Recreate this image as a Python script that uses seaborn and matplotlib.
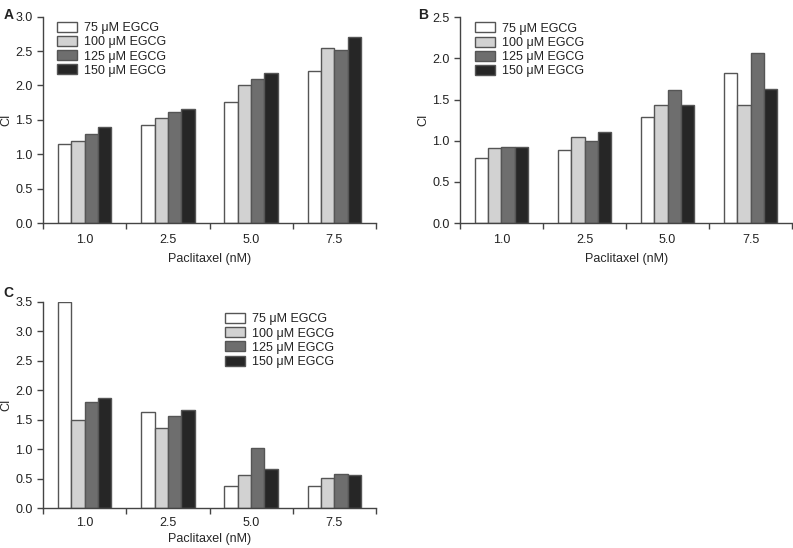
import matplotlib
matplotlib.use("Agg")
import matplotlib.pyplot as plt
import pandas as pd
import seaborn as sns

DOSES = ["1.0", "2.5", "5.0", "7.5"]
EGCG = ["75 \u03bcM EGCG", "100 \u03bcM EGCG", "125 \u03bcM EGCG", "150 \u03bcM EGCG"]

# CI values, one list per EGCG concentration (order follows DOSES)
A_75 = [1.15, 1.43, 1.76, 2.21]
A_100 = [1.19, 1.53, 2.00, 2.54]
A_125 = [1.29, 1.62, 2.10, 2.52]
A_150 = [1.39, 1.66, 2.18, 2.70]

B_75 = [0.79, 0.89, 1.29, 1.82]
B_100 = [0.91, 1.05, 1.43, 1.44]
B_125 = [0.92, 1.00, 1.62, 2.06]
B_150 = [0.92, 1.10, 1.43, 1.63]

C_75 = [3.50, 1.64, 0.37, 0.37]
C_100 = [1.50, 1.36, 0.56, 0.51]
C_125 = [1.80, 1.56, 1.02, 0.58]
C_150 = [1.87, 1.67, 0.66, 0.56]

PALETTE = ["#ffffff", "#d2d2d2", "#6e6e6e", "#262626"]


def to_frame(series):
    rows = []
    for label, values in zip(EGCG, series):
        for dose, v in zip(DOSES, values):
            rows.append({"dose": dose, "egcg": label, "ci": v})
    return pd.DataFrame(rows)


def draw_panel(ax, series, ymax, legend_anchor, xpad=8, xlabelpad=5):
    df = to_frame(series)
    sns.barplot(
        data=df, x="dose", y="ci", hue="egcg", order=DOSES, hue_order=EGCG,
        palette=PALETTE, width=0.64, edgecolor="#555555", linewidth=1.0,
        saturation=1, ax=ax,
    )
    n = int(round(ymax / 0.5)) + 1
    ax.set_xlim(-0.5, 3.5)
    ax.set_ylim(0, ymax)
    ax.set_yticks([i * 0.5 for i in range(n)])
    ax.set_yticklabels([f"{i * 0.5:.1f}" for i in range(n)])
    ax.set_xticks([-0.5, 0.5, 1.5, 2.5, 3.5])
    ax.set_xticklabels([])
    ax.set_xticks([0, 1, 2, 3], minor=True)
    ax.set_xticklabels(DOSES, minor=True)
    ax.tick_params(axis="x", which="minor", length=0, pad=xpad)
    ax.tick_params(axis="both", which="major", length=4, width=1, color="#444444")
    ax.set_xlabel("Paclitaxel (nM)", fontsize=9, labelpad=xlabelpad)
    ax.set_ylabel("CI", fontsize=9)
    ax.yaxis.set_label_coords(-0.093, 0.5)
    for s in ["top", "right"]:
        ax.spines[s].set_visible(False)
    for s in ["left", "bottom"]:
        ax.spines[s].set_color("#444444")
        ax.spines[s].set_linewidth(1)
    ax.legend(
        loc="upper left", bbox_to_anchor=legend_anchor, frameon=False,
        handlelength=1.6, handleheight=0.85, labelspacing=0.15,
        handletextpad=0.55, fontsize=9, borderaxespad=0, borderpad=0,
    )


sns.set_style("ticks")
plt.rcParams["font.family"] = ["Liberation Sans", "DejaVu Sans"]
plt.rcParams["xtick.labelsize"] = 9
plt.rcParams["ytick.labelsize"] = 9
plt.rcParams["text.color"] = "#222222"
plt.rcParams["xtick.color"] = "#222222"
plt.rcParams["ytick.color"] = "#222222"

fig = plt.figure(figsize=(7.93, 5.48), dpi=100)
ax_a = fig.add_axes([0.0542, 0.593, 0.420, 0.3765])
ax_b = fig.add_axes([0.580, 0.593, 0.419, 0.3755])
ax_c = fig.add_axes([0.0542, 0.0724, 0.420, 0.377])

draw_panel(ax_a, [A_75, A_100, A_125, A_150], 3.0, (0.042, 0.975))
draw_panel(ax_b, [B_75, B_100, B_125, B_150], 2.5, (0.045, 0.975))
draw_panel(ax_c, [C_75, C_100, C_125, C_150], 3.5, (0.547, 0.945),
           xpad=6, xlabelpad=3)

fig.text(0.004, 0.985, "A", fontsize=10, fontweight="bold", va="top")
fig.text(0.527, 0.985, "B", fontsize=10, fontweight="bold", va="top")
fig.text(0.004, 0.478, "C", fontsize=10, fontweight="bold", va="top")

fig.savefig("out.png", dpi=100)
